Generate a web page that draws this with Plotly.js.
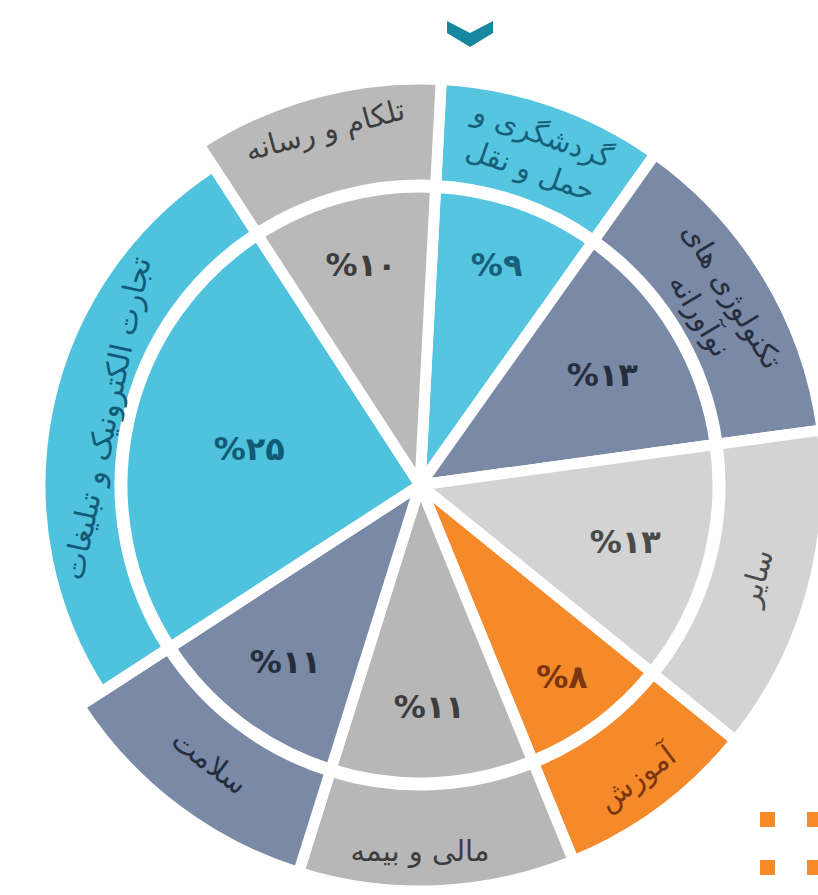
<!DOCTYPE html>
<html>
<head>
<meta charset="utf-8">
<script src="https://cdn.plot.ly/plotly-3.0.1.min.js"></script>
<style>
html,body{margin:0;padding:0;background:#fff;overflow:hidden;}
#chart{width:840px;height:895px;}
</style>
</head>
<body>
<div id="chart"></div>
<script>
// Data (clockwise from the top)
const categories = [
  "گردشگری و<br>حمل و نقل",
  "تکنولوژی های<br>نوآورانه",
  "سایر",
  "آموزش",
  "مالی و بیمه",
  "سلامت",
  "تجارت الکترونیک و تبلیغات",
  "تلکام و رسانه"
];
const shares = [9, 13, 13, 8, 11, 11, 25, 10];
const shareLabels = ["%۹", "%۱۳", "%۱۳", "%۸", "%۱۱", "%۱۱", "%۲۵", "%۱۰"];

const sliceColors = ["#56c5e0", "#7a89a5", "#d3d3d3", "#f58a2a", "#b7b7b7", "#7a89a5", "#4fc2de", "#b9b9b9"];
const textColors  = ["#17607c", "#262d3d", "#4a4a4a", "#7c3510", "#3d3d3d", "#262d3d", "#135a76", "#3d3d3d"];

const W = 840, H = 895;
const cx = 420, cy = 485;
const px = x => x / W;
const py = y => 1 - y / H;
const CLEAR = "rgba(0,0,0,0)";

function domainFor(r) {
  return {x: [px(cx - r), px(cx + r)], y: [py(cy + r), py(cy - r)]};
}

const lineW = 11;
const innerR = 298;
const outerR = 406;
const outerRNarrow = 380;   // the e-commerce band is drawn narrower in the original
const ringInner = 300;
const narrowIdx = 6;

const common = {
  type: "pie",
  values: shares,
  labels: categories,
  textinfo: "text",
  textposition: "inside",
  sort: false,
  direction: "clockwise",
  rotation: 3,
  hoverinfo: "label+percent",
  showlegend: false
};

const inner = Object.assign({}, common, {
  text: shareLabels,
  insidetextorientation: "horizontal",
  insidetextfont: {family: "DejaVu Sans", size: 32, weight: "bold", color: textColors},
  marker: {colors: sliceColors, line: {color: "#ffffff", width: lineW}},
  domain: domainFor(innerR)
});

const outerA = Object.assign({}, common, {
  text: categories.map((c, i) => i === narrowIdx ? "" : c),
  insidetextorientation: "tangential",
  insidetextfont: {family: "DejaVu Sans", size: 29, color: textColors},
  hole: ringInner / outerR,
  marker: {
    colors: sliceColors.map((c, i) => i === narrowIdx ? CLEAR : c),
    line: {color: sliceColors.map((c, i) => i === narrowIdx ? CLEAR : "#ffffff"), width: lineW}
  },
  domain: domainFor(outerR)
});

const outerB = Object.assign({}, common, {
  text: categories.map((c, i) => i === narrowIdx ? c : ""),
  insidetextorientation: "tangential",
  insidetextfont: {family: "DejaVu Sans", size: 30, color: textColors},
  hole: ringInner / outerRNarrow,
  marker: {
    colors: sliceColors.map((c, i) => i === narrowIdx ? c : CLEAR),
    line: {color: sliceColors.map((c, i) => i === narrowIdx ? "#ffffff" : CLEAR), width: lineW}
  },
  domain: domainFor(outerRNarrow)
});

// decorations
const chevronPts = [[447,21],[470,33],[493,21],[493,33],[470,47],[447,33]];
const chevronPath = "M" + chevronPts.map(p => px(p[0]) + "," + py(p[1])).join(" L") + " Z";
const shapes = [
  {type: "path", xref: "paper", yref: "paper", path: chevronPath, fillcolor: "#17869f", line: {width: 0}}
];
const squares = [[760,812],[807,812],[760,860],[807,860]];
squares.forEach(s => shapes.push({
  type: "rect", xref: "paper", yref: "paper",
  x0: px(s[0]), x1: px(s[0] + 15), y0: py(s[1] + 15), y1: py(s[1]),
  fillcolor: "#f58a2a", line: {width: 0}
}));

const layout = {
  width: W, height: H,
  margin: {l: 0, r: 0, t: 0, b: 0},
  paper_bgcolor: "#ffffff",
  showlegend: false,
  shapes: shapes
};

Plotly.newPlot("chart", [outerA, outerB, inner], layout, {displayModeBar: false, staticPlot: true});
</script>
</body>
</html>
